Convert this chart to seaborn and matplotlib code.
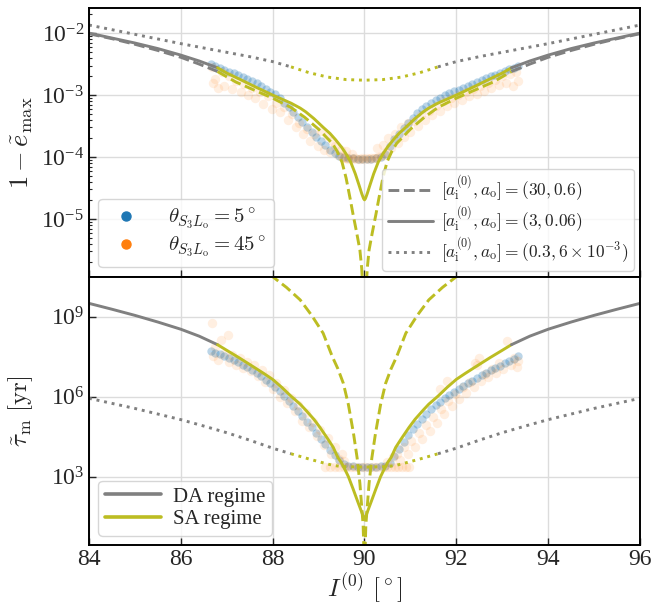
import numpy as np
import pandas as pd
import matplotlib
matplotlib.use("Agg")
import matplotlib.pyplot as plt
import seaborn as sns
from matplotlib.lines import Line2D
from matplotlib.ticker import FixedLocator, LogLocator, NullLocator, NullFormatter, FuncFormatter

# ---------------------------------------------------------------------------
# Analytic curves (log10 of the plotted quantity) vs initial inclination I0
# ---------------------------------------------------------------------------
# top panel: 1 - e_max, solid = (3, 0.06)
ts_gray_left_I = [84.0, 84.5, 85.0, 85.5, 86.0, 86.4, 86.8]
ts_gray_left = [-2.00, -2.08, -2.16, -2.25, -2.355, -2.45, -2.56]
ts_olive_I = [86.8, 87.0, 87.27, 87.6, 88.0, 88.2, 88.4, 88.6, 88.72, 88.9, 89.1, 89.25, 89.37, 89.5,
              89.6, 89.7, 89.8, 89.88, 89.94, 89.98, 90.0, 90.02, 90.06, 90.12, 90.2, 90.3, 90.4,
              90.5, 90.63, 90.75, 90.9, 91.1, 91.28, 91.4, 91.6, 91.8, 92.0, 92.4, 92.73, 93.0, 93.2]
ts_olive = [-2.56, -2.645, -2.74, -2.86, -3.0, -3.065, -3.13, -3.21, -3.27, -3.38, -3.52, -3.62,
            -3.72, -3.84, -3.95, -4.08, -4.27, -4.45, -4.59, -4.67, -4.69, -4.67, -4.59, -4.45,
            -4.27, -4.08, -3.95, -3.84, -3.72, -3.62, -3.52, -3.38, -3.27, -3.21, -3.13, -3.065,
            -3.0, -2.86, -2.74, -2.645, -2.56]
ts_gray_right_I = [93.2, 93.6, 94.0, 94.5, 95.0, 95.5, 96.0]
ts_gray_right = [-2.56, -2.45, -2.355, -2.25, -2.16, -2.08, -2.00]

# top panel: dashed = (30, 0.6)
td_gray_left_I = [84.0, 84.5, 85.0, 85.5, 86.0, 86.4, 86.8]
td_gray_left = [-2.01, -2.09, -2.18, -2.28, -2.39, -2.50, -2.62]
td_olive_I = [86.8, 87.2, 87.6, 88.0, 88.4, 88.7, 89.0, 89.3, 89.4, 89.51, 89.6, 89.69, 89.75, 89.83,
              89.9, 89.94, 89.97, 90.0, 90.03, 90.06, 90.1, 90.17, 90.25, 90.31, 90.4, 90.49, 90.6,
              90.7, 91.0, 91.3, 91.6, 92.0, 92.4, 92.8, 93.2]
td_olive = [-2.62, -2.79, -2.92, -3.05, -3.2, -3.36, -3.55, -3.78, -3.9, -4.08, -4.34, -4.68, -4.92,
            -5.22, -5.5, -5.8, -6.2, -7.5, -6.2, -5.8, -5.5, -5.22, -4.92, -4.68, -4.34, -4.08, -3.9,
            -3.78, -3.55, -3.36, -3.2, -3.05, -2.92, -2.79, -2.62]
td_gray_right_I = [93.2, 93.6, 94.0, 94.5, 95.0, 95.5, 96.0]
td_gray_right = [-2.62, -2.50, -2.39, -2.28, -2.18, -2.09, -2.01]

# top panel: dotted = (0.3, 6e-3)
tp_gray_left_I = [84.0, 85.0, 86.0, 87.0, 87.5, 88.0, 88.4]
tp_gray_left = [-1.87, -2.02, -2.17, -2.31, -2.38, -2.46, -2.545]
tp_olive_I = [88.4, 88.8, 89.2, 89.6, 90.0, 90.4, 90.8, 91.2, 91.6]
tp_olive = [-2.545, -2.64, -2.71, -2.75, -2.76, -2.75, -2.71, -2.64, -2.545]
tp_gray_right_I = [91.6, 92.0, 92.5, 93.0, 94.0, 95.0, 96.0]
tp_gray_right = [-2.545, -2.46, -2.38, -2.31, -2.17, -2.02, -1.87]

# bottom panel: tau_m, solid = (3, 0.06)
bs_gray_left_I = [84.0, 84.5, 85.0, 85.5, 86.0, 86.4, 86.8]
bs_gray_left = [9.5, 9.28, 9.05, 8.8, 8.53, 8.27, 7.95]
bs_olive_I = [86.8, 87.0, 87.27, 87.6, 87.8, 88.0, 88.2, 88.4, 88.6, 88.72, 88.9, 89.03, 89.2, 89.32,
              89.42, 89.5, 89.54, 89.6, 89.65, 89.75, 89.85, 89.95, 90.0, 90.05, 90.15, 90.25, 90.35,
              90.4, 90.46, 90.5, 90.58, 90.68, 90.8, 90.97, 91.1, 91.28, 91.4, 91.6, 91.8, 92.0,
              92.2, 92.4, 92.73, 93.0, 93.2]
bs_olive = [7.95, 7.74, 7.46, 7.1, 6.88, 6.65, 6.35, 6.02, 5.72, 5.5, 5.15, 4.85, 4.42, 4.1,
            3.72, 3.52, 3.38, 3.18, 3.0, 2.55, 2.08, 1.62, 1.38, 1.62, 2.08, 2.55, 3.0,
            3.18, 3.38, 3.52, 3.72, 4.1, 4.42, 4.85, 5.15, 5.5, 5.72, 6.02, 6.35, 6.65,
            6.88, 7.1, 7.46, 7.74, 7.95]
bs_gray_right_I = [93.2, 93.6, 94.0, 94.5, 95.0, 95.5, 96.0]
bs_gray_right = [7.95, 8.27, 8.53, 8.8, 9.05, 9.28, 9.5]

# bottom panel: dashed = (30, 0.6), SA branch only inside the frame
bd_olive_I = [87.7, 88.0, 88.3, 88.6, 88.85, 89.1, 89.3, 89.42, 89.54, 89.65, 89.76, 89.84, 89.9,
              89.97, 90.0, 90.03, 90.1, 90.16, 90.24, 90.35, 90.46, 90.58, 90.7, 90.9, 91.15,
              91.4, 91.7, 92.0, 92.3]
bd_olive = [11.0, 10.5, 10.1, 9.63, 9.05, 8.38, 7.5, 7.05, 6.5, 5.7, 4.63, 3.7, 2.75,
            1.2, -0.5, 1.2, 2.75, 3.7, 4.63, 5.7, 6.5, 7.05, 7.5, 8.38, 9.05,
            9.63, 10.1, 10.5, 11.0]

# bottom panel: dotted = (0.3, 6e-3)
bp_gray_left_I = [84.0, 84.5, 85.0, 85.5, 86.0, 86.5, 87.0, 87.5, 88.0, 88.4]
bp_gray_left = [5.94, 5.75, 5.56, 5.35, 5.14, 4.9, 4.65, 4.37, 4.07, 3.86]
bp_olive_I = [88.4, 88.8, 89.1, 89.3, 89.5, 90.0, 90.5, 90.7, 90.9, 91.2, 91.6]
bp_olive = [3.86, 3.66, 3.52, 3.43, 3.38, 3.36, 3.38, 3.43, 3.52, 3.66, 3.86]
bp_gray_right_I = [91.6, 92.0, 92.5, 93.0, 93.5, 94.0, 94.5, 95.0, 95.5, 96.0]
bp_gray_right = [3.86, 4.07, 4.37, 4.65, 4.9, 5.14, 5.35, 5.56, 5.75, 5.94]

# ---------------------------------------------------------------------------
# N-body runs: theta_S3Lo = 5 deg (blue)
# ---------------------------------------------------------------------------
blue_I = [86.65, 86.75, 86.85, 86.95, 87.05, 87.15, 87.25, 87.35, 87.45, 87.55, 87.65, 87.75,
          87.85, 87.95, 88.05, 88.15, 88.25, 88.35, 88.45, 88.55, 88.65, 88.75, 88.85, 88.95,
          89.05, 89.15, 89.25, 89.35, 89.45, 89.55, 89.65, 89.75, 89.85, 89.95, 90.05, 90.15,
          90.25, 90.35, 90.45, 90.55, 90.65, 90.75, 90.85, 90.95, 91.05, 91.15, 91.25, 91.35,
          91.45, 91.55, 91.65, 91.75, 91.85, 91.95, 92.05, 92.15, 92.25, 92.35, 92.45, 92.55,
          92.65, 92.75, 92.85, 92.95, 93.05, 93.15, 93.25, 93.35]
blue_emax = [-2.50, -2.53, -2.57, -2.60, -2.62, -2.65, -2.68, -2.71, -2.74, -2.77, -2.81, -2.85,
             -2.90, -2.95, -2.99, -3.05, -3.12, -3.19, -3.28, -3.36, -3.44, -3.52, -3.60, -3.67,
             -3.74, -3.81, -3.88, -3.94, -3.98, -4.00, -4.01, -4.02, -4.03, -4.03, -4.03, -4.03,
             -4.02, -4.00, -3.95, -3.82, -3.71, -3.62, -3.53, -3.45, -3.37, -3.29, -3.23, -3.18,
             -3.13, -3.08, -3.04, -3.00, -2.97, -2.94, -2.91, -2.88, -2.85, -2.82, -2.79, -2.76,
             -2.73, -2.70, -2.67, -2.64, -2.61, -2.58, -2.56, -2.53]
blue_tau = [7.70, 7.65, 7.60, 7.53, 7.46, 7.38, 7.29, 7.19, 7.10, 7.00, 6.89, 6.77,
            6.64, 6.50, 6.36, 6.20, 6.03, 5.85, 5.66, 5.46, 5.26, 5.06, 4.85, 4.64,
            4.43, 4.22, 4.01, 3.80, 3.62, 3.48, 3.41, 3.39, 3.38, 3.38, 3.38, 3.38,
            3.38, 3.39, 3.41, 3.50, 3.78, 4.05, 4.32, 4.56, 4.78, 4.98, 5.17, 5.36,
            5.53, 5.68, 5.81, 5.94, 6.06, 6.18, 6.29, 6.40, 6.50, 6.60, 6.70, 6.80,
            6.90, 6.99, 7.08, 7.17, 7.26, 7.35, 7.43, 7.51]

# theta_S3Lo = 45 deg (orange), top panel
orange_top_I = [86.68, 86.70, 86.75, 86.82, 86.90, 86.95, 87.05, 87.12, 87.20, 87.30, 87.38, 87.46,
                87.55, 87.62, 87.72, 87.80, 87.90, 87.98, 88.08, 88.16, 88.25, 88.34, 88.42, 88.50,
                88.58, 88.66, 88.74, 88.82, 88.90, 88.98, 89.06, 89.12, 89.18, 89.24, 89.30, 89.36,
                89.42, 89.48, 89.50, 89.55, 89.60, 89.65, 89.70, 89.75, 89.80, 89.85, 89.90, 89.95,
                90.00, 90.05, 90.10, 90.15, 90.20, 90.25, 90.30, 90.35, 90.42, 89.60, 89.72, 90.28,
                90.40, 90.46, 90.52, 90.58, 90.66, 90.72, 90.80, 90.86, 90.94, 91.00, 91.08, 91.16,
                91.24, 91.32, 91.40, 91.48, 91.56, 91.64, 91.72, 91.80, 91.88, 91.96, 92.04, 92.12,
                92.20, 92.28, 92.36, 92.44, 92.52, 92.60, 92.68, 92.76, 92.84, 92.92, 93.00, 93.08,
                93.16, 93.24, 93.30, 93.34]
orange_top = [-2.55, -2.80, -2.74, -2.88, -2.62, -2.86, -2.70, -2.90, -2.78, -2.95, -2.82, -3.00,
              -2.88, -3.05, -2.95, -3.15, -3.02, -3.22, -3.12, -3.28, -3.20, -3.40, -3.30, -3.52,
              -3.45, -3.62, -3.55, -3.74, -3.62, -3.82, -3.58, -3.88, -3.66, -3.92, -3.74, -3.82,
              -3.96, -3.88, -4.00, -4.02, -4.01, -4.03, -4.02, -4.03, -4.02, -4.03, -4.03, -4.02,
              -4.03, -4.02, -4.03, -4.02, -4.02, -4.01, -4.00, -3.98, -3.96, -3.90, -3.95, -3.85,
              -3.80, -3.92, -3.70, -3.86, -3.62, -3.78, -3.52, -3.68, -3.45, -3.60, -3.42, -3.50,
              -3.32, -3.40, -3.25, -3.32, -3.18, -3.25, -3.10, -3.18, -3.04, -3.12, -3.00, -3.08,
              -2.95, -3.02, -2.90, -2.98, -2.86, -2.93, -2.80, -2.88, -2.75, -2.84, -2.70, -2.80,
              -2.66, -2.86, -2.62, -2.78]

# theta_S3Lo = 45 deg (orange), bottom panel
orange_bot_I = [86.67, 86.70, 86.74, 86.80, 86.88, 86.95, 87.02, 87.05, 87.12, 87.20, 87.28, 87.36,
                87.44, 87.52, 87.60, 87.68, 87.76, 87.84, 87.92, 88.00, 88.08, 88.16, 88.24, 88.32,
                88.40, 88.48, 88.56, 88.64, 88.72, 88.80, 88.88, 88.96, 89.04, 89.12, 89.20, 89.28,
                89.36, 89.44, 89.50, 89.15, 89.25, 89.35, 89.45, 89.55, 89.62, 89.70, 89.78, 89.86,
                89.94, 90.02, 90.10, 90.18, 90.26, 90.34, 90.42, 90.50, 90.58, 90.66, 90.74, 90.82,
                90.90, 90.98, 89.56, 90.50, 90.62, 90.70, 90.78, 90.86, 90.94, 91.02, 91.10, 91.18,
                91.26, 91.34, 91.42, 91.50, 91.58, 91.66, 91.74, 91.82, 91.90, 91.98, 92.06, 92.14,
                92.22, 92.30, 92.38, 92.46, 92.54, 92.62, 92.70, 92.78, 92.86, 92.94, 93.02, 93.10,
                93.18, 93.26, 93.32, 93.35, 91.64, 91.80, 92.40, 92.50]
orange_bot = [8.75, 7.52, 7.85, 7.38, 8.12, 7.60, 8.30, 7.32, 7.55, 7.20, 7.45, 7.08,
              7.32, 6.95, 7.18, 6.78, 7.00, 6.55, 6.80, 6.28, 6.52, 6.00, 6.25, 5.75,
              5.95, 5.45, 5.68, 5.10, 5.38, 4.85, 5.05, 4.52, 4.75, 4.20, 4.45, 3.85,
              4.10, 3.65, 3.85, 3.38, 3.37, 3.38, 3.38, 3.38, 3.38, 3.38, 3.38, 3.38,
              3.38, 3.38, 3.38, 3.38, 3.38, 3.38, 3.38, 3.38, 3.38, 3.38, 3.38, 3.37,
              3.37, 3.36, 3.60, 3.55, 3.75, 3.85, 3.62, 4.10, 3.85, 4.35, 4.10, 4.65,
              4.40, 4.95, 4.70, 5.25, 5.00, 5.55, 5.35, 5.85, 5.65, 6.10, 5.90, 6.35,
              6.15, 6.55, 6.38, 7.20, 6.60, 6.85, 6.75, 7.05, 6.90, 7.25, 7.05, 8.10,
              7.20, 7.45, 7.10, 7.35, 6.30, 6.60, 7.25, 7.45]

xticks = [84, 86, 88, 90, 92, 94, 96]
top_yticks = [1e-5, 1e-4, 1e-3, 1e-2]
bot_yticks = [1e3, 1e6, 1e9]

GRAY = "#808080"
OLIVE = "#bcbd22"
BLUE = "#1f77b4"
ORANGE = "#ff7f0e"

sns.set_theme(style="white")
plt.rcParams.update({
    "font.family": ["Liberation Serif", "DejaVu Serif"],
    "mathtext.fontset": "cm",
    "axes.edgecolor": "black",
    "axes.linewidth": 1.4,
    "axes.grid": True,
    "grid.color": "#dcdcdc",
    "grid.linewidth": 1.0,
    "xtick.direction": "in",
    "ytick.direction": "in",
    "legend.edgecolor": "#cccccc",
})

fig = plt.figure(figsize=(6.71, 6.06), dpi=100)
ax1 = fig.add_axes([0.1326, 0.5434, 0.8212, 0.4429])
ax2 = fig.add_axes([0.1326, 0.1007, 0.8212, 0.4427], sharex=ax1)


def curve(ax, I, logv, color, ls):
    df = pd.DataFrame({"I": I, "v": np.power(10.0, logv)})
    sns.lineplot(data=df, x="I", y="v", color=color, linestyle=ls, lw=2.1,
                 estimator=None, sort=False, ax=ax)


def cloud(ax, I, logv, color, alpha, size):
    df = pd.DataFrame({"I": I, "v": np.power(10.0, logv)})
    sns.scatterplot(data=df, x="I", y="v", color=color, s=size, alpha=alpha,
                    linewidth=0, ax=ax)


for ax in (ax1, ax2):
    ax.set_yscale("log")

# scatter clouds first, analytic curves on top
cloud(ax1, blue_I, blue_emax, BLUE, 0.3, 36)
cloud(ax1, orange_top_I, orange_top, ORANGE, 0.12, 46)
cloud(ax2, blue_I, blue_tau, BLUE, 0.3, 36)
cloud(ax2, orange_bot_I, orange_bot, ORANGE, 0.12, 46)

# top panel curves
curve(ax1, tp_gray_left_I, tp_gray_left, GRAY, ":")
curve(ax1, tp_olive_I, tp_olive, OLIVE, ":")
curve(ax1, tp_gray_right_I, tp_gray_right, GRAY, ":")
curve(ax1, td_gray_left_I, td_gray_left, GRAY, "--")
curve(ax1, td_olive_I, td_olive, OLIVE, "--")
curve(ax1, td_gray_right_I, td_gray_right, GRAY, "--")
curve(ax1, ts_gray_left_I, ts_gray_left, GRAY, "-")
curve(ax1, ts_olive_I, ts_olive, OLIVE, "-")
curve(ax1, ts_gray_right_I, ts_gray_right, GRAY, "-")

# bottom panel curves
curve(ax2, bp_gray_left_I, bp_gray_left, GRAY, ":")
curve(ax2, bp_olive_I, bp_olive, OLIVE, ":")
curve(ax2, bp_gray_right_I, bp_gray_right, GRAY, ":")
curve(ax2, bd_olive_I, bd_olive, OLIVE, "--")
curve(ax2, bs_gray_left_I, bs_gray_left, GRAY, "-")
curve(ax2, bs_olive_I, bs_olive, OLIVE, "-")
curve(ax2, bs_gray_right_I, bs_gray_right, GRAY, "-")

# axes limits, ticks
ax1.set_xlim(84, 96)
ax1.set_ylim(10 ** -5.93, 10 ** -1.6)
ax2.set_ylim(10 ** 0.44, 10 ** 10.5)

pow_fmt = FuncFormatter(lambda v, p: r"$\mathregular{10^{%d}}$" % int(round(np.log10(v))))

ax1.yaxis.set_major_locator(FixedLocator(top_yticks))
ax1.yaxis.set_minor_locator(LogLocator(base=10, subs=np.arange(2, 10), numticks=20))
ax1.yaxis.set_minor_formatter(NullFormatter())
ax1.yaxis.set_major_formatter(pow_fmt)
ax2.yaxis.set_major_locator(FixedLocator(bot_yticks))
ax2.yaxis.set_minor_locator(NullLocator())
ax2.yaxis.set_major_formatter(pow_fmt)
ax2.set_xticks(xticks)
ax2.set_xticklabels([str(t) for t in xticks])

for ax in (ax1, ax2):
    ax.tick_params(axis="both", which="major", direction="in", length=5, width=1.0,
                   labelsize=17, left=True, bottom=True, top=False, right=False)
    ax.tick_params(axis="y", which="minor", direction="in", length=2.5, width=0.8, left=True)
    ax.grid(True, which="major")
    ax.grid(False, which="minor")
    for s in ax.spines.values():
        s.set_color("black")
        s.set_linewidth(1.4)
ax1.tick_params(axis="x", labelbottom=False)
ax2.tick_params(axis="x", pad=3)

ax1.set_xlabel("")
ax1.set_ylabel(r"$1-\tilde{e}_{\rm max}$", fontsize=19)
ax2.set_ylabel(r"$\tilde{\tau}_{\rm m}\ [{\rm yr}]$", fontsize=18)
ax2.set_xlabel(r"$I^{(0)}\ [^\circ]$", fontsize=18)
ax1.yaxis.set_label_coords(-0.098, 0.5)
ax2.yaxis.set_label_coords(-0.098, 0.5)
ax2.xaxis.set_label_coords(0.5, -0.098)

# legends
sim_handles = [
    Line2D([], [], marker="o", ls="none", color=BLUE, markersize=6.5),
    Line2D([], [], marker="o", ls="none", color=ORANGE, markersize=6.5),
]
sim_labels = [r"$\theta_{S_3L_{\rm o}}=5^\circ$", r"$\theta_{S_3L_{\rm o}}=45^\circ$"]
leg1 = ax1.legend(sim_handles, sim_labels, loc="lower left", fontsize=15,
                  handletextpad=1.0, borderaxespad=0.45, labelspacing=0.15, borderpad=0.35)
ax1.add_artist(leg1)

sys_handles = [
    Line2D([], [], color=GRAY, ls="--", lw=2.1),
    Line2D([], [], color=GRAY, ls="-", lw=2.1),
    Line2D([], [], color=GRAY, ls=":", lw=2.1),
]
sys_labels = [r"$[a_{\rm i}^{(0)}, a_{\rm o}] = (30, 0.6)$",
              r"$[a_{\rm i}^{(0)}, a_{\rm o}] = (3, 0.06)$",
              r"$[a_{\rm i}^{(0)}, a_{\rm o}] = (0.3, 6\times 10^{-3})$"]
ax1.legend(sys_handles, sys_labels, loc="lower right", fontsize=12.5,
           handlelength=2.6, handletextpad=0.5, borderaxespad=0.35, labelspacing=0.1,
           borderpad=0.3)

reg_handles = [Line2D([], [], color=GRAY, lw=2.6), Line2D([], [], color=OLIVE, lw=2.6)]
ax2.legend(reg_handles, ["DA regime", "SA regime"], loc="lower left", fontsize=15,
           handlelength=2.7, handletextpad=0.6, borderaxespad=0.45, labelspacing=0.15,
           borderpad=0.3)

fig.savefig("out.png", dpi=100)
